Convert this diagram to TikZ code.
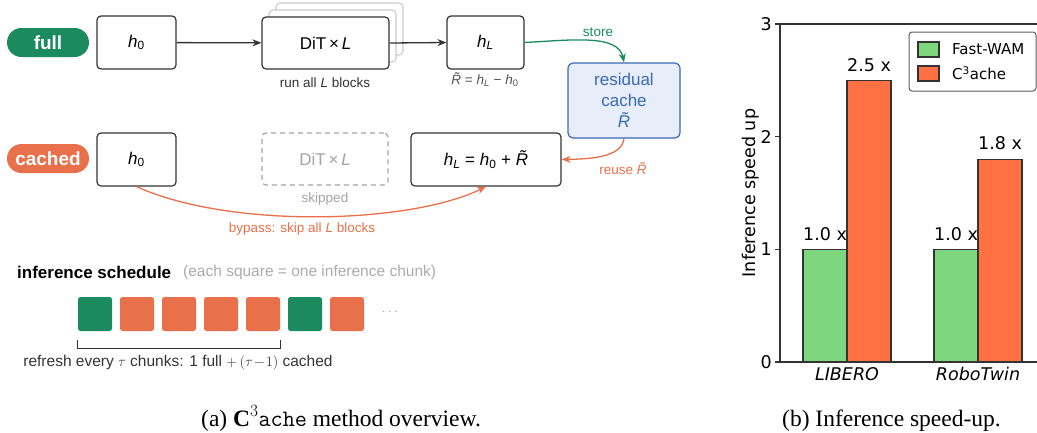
\documentclass[tikz,border=0pt]{standalone}
\usepackage{fontspec}
\setmainfont{Liberation Serif}
\newfontfamily\sfx{Liberation Sans}
\newfontfamily\dvs{DejaVu Sans}
\usetikzlibrary{arrows.meta}
\definecolor{fgreen}{HTML}{1B8A5E}
\definecolor{forange}{HTML}{E8704A}
\definecolor{boxc}{HTML}{333333}
\definecolor{resfill}{HTML}{E7EEFA}
\definecolor{resdraw}{HTML}{3A68B4}
\definecolor{skipc}{HTML}{A3A3AA}
\definecolor{layerc}{HTML}{C9CAD2}
\definecolor{notec}{HTML}{ABABAB}
\definecolor{barg}{HTML}{7ED67E}
\definecolor{baro}{HTML}{FF7043}
\newcommand{\hsb}[1]{\textit{h}\textsubscript{#1}}
\newcommand{\Rt}{\textit{\~{R}}}
\begin{document}
\begin{tikzpicture}[x=1pt,y=-1pt,
 box/.style={draw=boxc, line width=1.2pt, rounded corners=4pt, fill=white, inner sep=0pt, font=\sfx\fontsize{17}{20}\selectfont},
 layer/.style={draw=layerc, line width=1.1pt, rounded corners=4pt, fill=white, minimum width=127pt, minimum height=52pt, inner sep=0pt},
 pill/.style={rounded corners=14.5pt, inner sep=0pt, minimum width=82pt, minimum height=29pt, text=white, font=\sfx\bfseries\fontsize{19}{21}\selectfont},
 lbl/.style={inner sep=0pt, font=\sfx\fontsize{13.5}{15}\selectfont},
 arr/.style={-{Stealth[length=9pt,width=7pt]}, line width=1.3pt},
 sq/.style={rounded corners=2.5pt, minimum size=34pt, inner sep=0pt},
 ctxt/.style={inner sep=0pt, font=\dvs\fontsize{17.5}{20}\selectfont},
 bar/.style={draw=boxc, line width=1.2pt},
 tick/.style={draw=boxc, line width=1.1pt}
]
\useasboundingbox (0,0) rectangle (1037,432);

% ---------- full row ----------
\node[pill, fill=fgreen] (full) at (48,42.5) {full};
\node[box, minimum width=79pt, minimum height=53pt] (h0a) at (136.5,42.5) {\hsb{0}};
\node[layer] (dit2) at (339.5,29) {};
\node[layer] (dit1) at (332.5,36) {};
\node[box, minimum width=127pt, minimum height=52pt] (dit) at (325.5,43) {DiT\,×\,\textit{L}};
\node[box, minimum width=77pt, minimum height=53pt] (hLa) at (485.5,42.5) {\textit{h}\textsubscript{\textit{L}}};
\node[lbl, text=boxc] (runall) at (325,83) {run all \textit{L} blocks};
\node[lbl, text=boxc!85] (rdef) at (485,80) {\Rt{} = \textit{h}\textsubscript{\textit{L}} − \hsb{0}};
\node[draw=resdraw, fill=resfill, line width=1.2pt, rounded corners=5pt, minimum width=112pt, minimum height=75pt, inner sep=0pt, align=center, text=resdraw, font=\sfx\fontsize{17}{21}\selectfont] (res) at (624,100.5) {residual\\cache\\\Rt};

\draw[arr, boxc] (h0a) -- (dit);
\draw[arr, boxc] (dit.east) -- (hLa.west);
\draw[arr, fgreen] (hLa.east) .. controls (572,40) and (618,34) .. (res.north);
\node[lbl, text=fgreen] (store) at (598,32) {store};

% ---------- cached row ----------
\node[pill, fill=forange] (cached) at (48,158.5) {cached};
\node[box, minimum width=79pt, minimum height=53pt] (h0b) at (136.5,159.5) {\hsb{0}};
\node[box, draw=skipc, dashed, dash pattern=on 5pt off 4pt, text=skipc, minimum width=126pt, minimum height=52pt] (dits) at (325,159) {DiT\,×\,\textit{L}};
\node[lbl, text=skipc] (skipped) at (325,199) {skipped};
\node[box, minimum width=150pt, minimum height=53pt] (hLb) at (486,159.5) {\textit{h}\textsubscript{\textit{L}} = \hsb{0} + \Rt};

\draw[arr, forange] (res.south) .. controls (622,156) and (595,159) .. (hLb.east);
\node[lbl, text=forange] (reuse) at (623,169) {reuse \Rt};
\draw[arr, forange] (h0b.south) .. controls (230,229) and (410,224) .. (hLb.south);
\node[lbl, text=forange] (bypass) at (302,229) {bypass: skip all \textit{L} blocks};

% ---------- schedule ----------
\node[inner sep=0pt, anchor=west, font=\sfx\bfseries\fontsize{17}{20}\selectfont] (sched) at (17,272) {inference schedule};
\node[inner sep=0pt, anchor=west, text=notec, font=\sfx\fontsize{15.5}{18}\selectfont] (note) at (183,272) {(each square = one inference chunk)};
\node[sq, fill=fgreen] (s1) at (95,314) {};
\node[sq, fill=forange] (s2) at (137,314) {};
\node[sq, fill=forange] (s3) at (179,314) {};
\node[sq, fill=forange] (s4) at (221,314) {};
\node[sq, fill=forange] (s5) at (263,314) {};
\node[sq, fill=fgreen] (s6) at (305,314) {};
\node[sq, fill=forange] (s7) at (347,314) {};
\node[inner sep=0pt, text=notec, font=\fontsize{14}{16}\selectfont] (dots) at (390,312) {$\cdots$};
\draw[boxc, line width=1.2pt] ([yshift=-9pt]s1.south west) -- ([yshift=-17pt]s1.south west) -- ([yshift=-17pt]s5.south east) -- ([yshift=-9pt]s5.south east);
\node[inner sep=0pt, text=boxc, font=\sfx\fontsize{15.5}{18}\selectfont] (refresh) at (178,363) {refresh every $\tau$ chunks: 1 full $+\,(\tau\!-\!1)$ cached};

% ---------- caption a ----------
\node[inner sep=0pt, anchor=base west, font=\fontsize{23.5}{26}\selectfont] (capa) at (201,426) {(a) \textbf{C}$^3$\texttt{ache} method overview.};

% ---------- chart ----------
\draw[bar, fill=barg] (803,362) rectangle (847,249.33);
\node[ctxt, anchor=base] (l1) at (825,240) {1.0 x};
\draw[bar, fill=baro] (847,362) rectangle (891,80.33);
\node[ctxt, anchor=base] (l2) at (869,71) {2.5 x};
\draw[bar, fill=barg] (934,362) rectangle (978,249.33);
\node[ctxt, anchor=base] (l3) at (956,240) {1.0 x};
\draw[bar, fill=baro] (978,362) rectangle (1022,159.2);
\node[ctxt, anchor=base] (l4) at (1000,149) {1.8 x};

\draw[boxc, line width=1.2pt] (1037,24) -- (780,24) -- (780,362) -- (1037,362);
\foreach \v/\yy in {0/362,1/249.33,2/136.67,3/24}{
  \draw[tick] (775,\yy) -- (780,\yy);
  \node[ctxt, anchor=east] at (772,\yy) {\v};
}
\node[ctxt, rotate=90] (ylab) at (751,193) {Inference speed up};
\node[ctxt, anchor=north] (xl1) at (847,367) {\itshape LIBERO};
\node[ctxt, anchor=north] (xl2) at (978,367) {\itshape RoboTwin};

\draw[draw=boxc!80, rounded corners=3pt, fill=white, line width=1pt] (909,32) rectangle (1036,91);
\draw[bar, fill=barg] (918,42) rectangle (939,57);
\draw[bar, fill=baro] (918,66) rectangle (939,81);
\node[inner sep=0pt, anchor=west, font=\dvs\fontsize{15}{18}\selectfont] (lg1) at (952,49.5) {Fast-WAM};
\node[inner sep=0pt, anchor=west, font=\dvs\fontsize{15}{18}\selectfont] (lg2) at (952,73.5) {C\textsuperscript{3}ache};

% ---------- caption b ----------
\node[inner sep=0pt, anchor=base west, font=\fontsize{23.5}{26}\selectfont] (capb) at (782,426) {(b) Inference speed-up.};
\end{tikzpicture}
\end{document}
